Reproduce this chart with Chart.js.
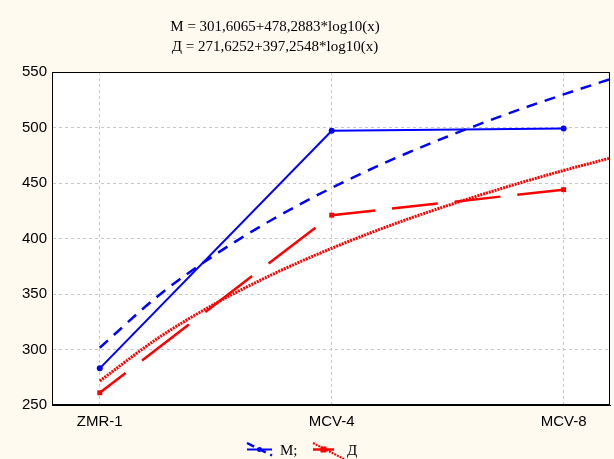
<!DOCTYPE html>
<html>
<head>
<meta charset="utf-8">
<script src="https://cdn.jsdelivr.net/npm/chart.js@4.4.1/dist/chart.umd.min.js"></script>
<style>
html,body{margin:0;padding:0;background:#fefaf0;}
#wrap{width:614px;height:459px;position:relative;}
</style>
</head>
<body>
<div id="wrap"><canvas id="c" width="614" height="459"></canvas></div>
<script>
const categories = ['ZMR-1', 'MCV-4', 'MCV-8'];
const categoryX = [1, 2, 3];
const mValues = [283, 497, 499];
const dValues = [261, 421, 444];
const fitX = [1, 1.25, 1.5, 1.75, 2, 2.25, 2.5, 2.75, 3, 3.2];
const mFit = [301.6, 348.0, 385.8, 417.8, 445.6, 470.1, 491.9, 511.7, 529.8, 543.5];
const dFit = [271.6, 310.1, 341.6, 368.2, 391.2, 411.6, 429.7, 446.2, 461.3, 472.4];
const titleLines = ['M = 301,6065+478,2883*log10(x)', 'Д = 271,6252+397,2548*log10(x)'];
const legendLabels = ['M;', 'Д'];

const BLUE = '#0000ff', RED = '#ff0000';
const pts = (xs, ys) => xs.map((x, i) => ({x: x, y: ys[i]}));

const decor = {
  id: 'decor',
  beforeDraw(chart) {
    const {ctx, chartArea: a} = chart;
    ctx.save();
    ctx.fillStyle = '#fefaf0';
    ctx.fillRect(0, 0, chart.width, chart.height);
    ctx.fillStyle = '#ffffff';
    ctx.fillRect(a.left, a.top, a.right - a.left, a.bottom - a.top);
    ctx.restore();
  },
  afterDraw(chart) {
    const {ctx, chartArea: a} = chart;
    ctx.save();
    ctx.strokeStyle = '#000';
    ctx.lineWidth = 1;
    ctx.strokeRect(a.left + 0.5, a.top + 0.5, a.right - a.left - 1, a.bottom - a.top - 1);
    ctx.fillStyle = '#000';
    ctx.font = '15px "Liberation Serif", serif';
    ctx.textAlign = 'center';
    ctx.textBaseline = 'middle';
    ctx.fillText(titleLines[0], 275, 27);
    ctx.fillText(titleLines[1], 275, 47);
    const y = 449.5;
    ctx.strokeStyle = BLUE;
    ctx.lineWidth = 2;
    ctx.setLineDash([]);
    ctx.beginPath(); ctx.moveTo(247, y); ctx.lineTo(272, y); ctx.stroke();
    ctx.lineWidth = 2.5;
    ctx.setLineDash([8, 5]);
    ctx.beginPath(); ctx.moveTo(247, 443); ctx.lineTo(272, 455.5); ctx.stroke();
    ctx.setLineDash([]);
    ctx.fillStyle = BLUE;
    ctx.beginPath(); ctx.arc(259.5, y, 2.5, 0, Math.PI * 2); ctx.fill();
    ctx.strokeStyle = RED;
    ctx.lineWidth = 2.5;
    ctx.beginPath(); ctx.moveTo(313, y); ctx.lineTo(334, y); ctx.stroke();
    ctx.lineWidth = 2;
    ctx.setLineDash([2, 1]);
    ctx.beginPath(); ctx.moveTo(313, 443); ctx.lineTo(344, 459); ctx.stroke();
    ctx.setLineDash([]);
    ctx.fillStyle = RED;
    ctx.fillRect(323.5 - 3, y - 3, 6, 6);
    ctx.fillStyle = '#000';
    ctx.font = '15px "Liberation Serif", serif';
    ctx.textAlign = 'left';
    ctx.fillText(legendLabels[0], 280, 451);
    ctx.fillText(legendLabels[1], 347, 451);
    ctx.restore();
  }
};

new Chart(document.getElementById('c'), {
  type: 'line',
  data: {
    datasets: [
      {
        label: 'M',
        data: pts(categoryX, mValues),
        borderColor: BLUE, backgroundColor: BLUE,
        borderWidth: 2, pointRadius: 3, pointStyle: 'circle',
        pointBackgroundColor: BLUE, pointBorderWidth: 0,
        tension: 0, order: 1
      },
      {
        label: 'Д',
        data: pts(categoryX, dValues),
        borderColor: RED, backgroundColor: RED,
        borderWidth: 2.5,
        segment: {
          borderDash: (c) => c.p0DataIndex === 0 ? [59, 20.7] : [46, 17],
          borderDashOffset: (c) => c.p0DataIndex === 0 ? 26.5 : 2.3
        },
        pointRadius: 3.5, pointStyle: 'rect',
        pointBackgroundColor: RED, pointBorderWidth: 0,
        tension: 0, order: 2
      },
      {
        label: 'M fit',
        data: pts(fitX, mFit),
        borderColor: BLUE, borderWidth: 2.5, borderDash: [11, 8],
        pointRadius: 0, cubicInterpolationMode: 'monotone', order: 3
      },
      {
        label: 'Д fit',
        data: pts(fitX, dFit),
        borderColor: RED, borderWidth: 3, borderDash: [2, 1],
        pointRadius: 0, cubicInterpolationMode: 'monotone', order: 4
      }
    ]
  },
  options: {
    responsive: false,
    animation: false,
    layout: {padding: {top: 72, right: 2, bottom: 22, left: 0}},
    plugins: {legend: {display: false}, title: {display: false}, tooltip: {enabled: false}},
    scales: {
      x: {
        type: 'linear',
        min: 0.794, max: 3.2,
        afterBuildTicks: (s) => { s.ticks = categoryX.map(v => ({value: v})); },
        afterFit: (s) => { s.height = 32; },
        ticks: {
          callback: (v) => categories[categoryX.indexOf(v)] || '',
          color: '#000', padding: 8,
          font: {family: '"Liberation Sans", Arial, sans-serif', size: 15},
          maxRotation: 0, autoSkip: false
        },
        grid: {color: '#c8c8c8', drawTicks: false, lineWidth: 1},
        border: {display: true, color: '#000', dash: [3, 3]}
      },
      y: {
        min: 250, max: 550,
        afterFit: (s) => { s.width = 52; },
        ticks: {
          stepSize: 50, color: '#000', padding: 5,
          font: {family: '"Liberation Sans", Arial, sans-serif', size: 15}
        },
        grid: {color: '#c8c8c8', drawTicks: false, lineWidth: 1},
        border: {display: true, color: '#000', dash: [3, 3]}
      }
    }
  },
  plugins: [decor]
});
</script>
</body>
</html>
